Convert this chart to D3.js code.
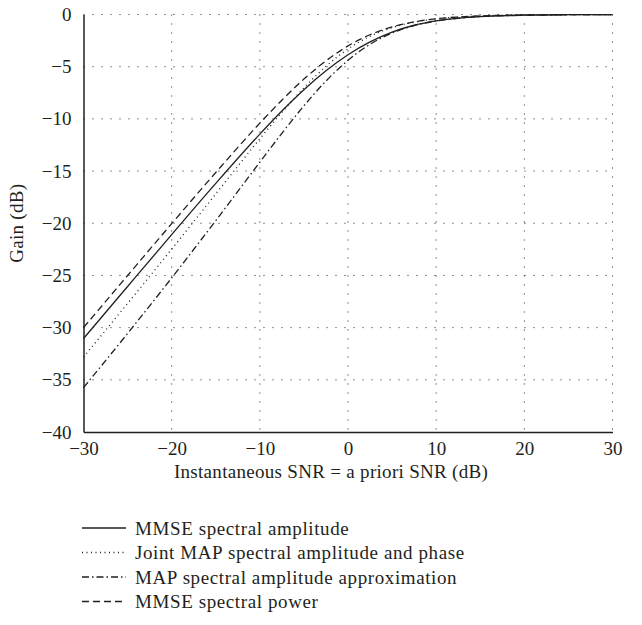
<!DOCTYPE html>
<html>
<head>
<meta charset="utf-8">
<script src="https://cdn.jsdelivr.net/npm/d3@7"></script>
<style>
  body { margin: 0; background: #fff; }
  text { font-family: "Liberation Serif", "DejaVu Serif", serif; fill: #231f20; }
</style>
</head>
<body>
<div id="chart"></div>
<script>
// SNR (dB) sample points and gain curves (dB)
const snr = [-30, -25, -20, -15, -10, -7.5, -5, -2.5, 0, 2.5, 5, 7.5, 10, 12.5, 15, 20, 25, 30];
const mmseAmplitude = [-31.05, -26.06, -21.09, -16.18, -11.46, -9.25, -7.21, -5.4, -3.86, -2.63, -1.69, -1.03, -0.61, -0.35, -0.2, -0.065, -0.02, -0.007];
const jointMap = [-32.82, -27.69, -22.48, -17.19, -11.91, -9.38, -7.03, -4.97, -3.31, -2.09, -1.26, -0.74, -0.42, -0.24, -0.14, -0.043, -0.014, -0.004];
const mapApprox = [-35.75, -30.56, -25.24, -19.75, -14.15, -11.38, -8.75, -6.38, -4.39, -2.85, -1.77, -1.06, -0.62, -0.36, -0.2, -0.065, -0.02, -0.007];
const mmsePower = [-30.0, -25.01, -20.04, -15.14, -10.41, -8.21, -6.19, -4.44, -3.01, -1.94, -1.19, -0.71, -0.41, -0.24, -0.135, -0.043, -0.014, -0.004];

const xTicks = [-30, -20, -10, 0, 10, 20, 30];
const yTicks = [0, -5, -10, -15, -20, -25, -30, -35, -40];

const seriesNames = [
  "MMSE spectral amplitude",
  "Joint MAP spectral amplitude and phase",
  "MAP spectral amplitude approximation",
  "MMSE spectral power",
];
const seriesValues = [mmseAmplitude, jointMap, mapApprox, mmsePower];
const dashes = [null, "1,3.5", "7,3,1.5,3", "7,4"];

const width = 642, height = 625;
const margin = { top: 14.5, right: 29.5, bottom: 193, left: 83.5 };
const w = width - margin.left - margin.right;
const h = height - margin.top - margin.bottom;

const svg = d3.select("#chart").append("svg")
  .attr("width", width)
  .attr("height", height);

const g = svg.append("g")
  .attr("transform", `translate(${margin.left},${margin.top})`);

const x = d3.scaleLinear().domain([-30, 30]).range([0, w]);
const y = d3.scaleLinear().domain([-40, 0]).range([h, 0]);

// dotted grid
g.append("g").selectAll("line")
  .data(yTicks.filter((d) => d !== -40))
  .join("line")
  .attr("x1", 0).attr("x2", w)
  .attr("y1", (d) => y(d)).attr("y2", (d) => y(d))
  .attr("stroke", "#231f20")
  .attr("stroke-width", 1)
  .attr("stroke-dasharray", "1,8");

g.append("g").selectAll("line")
  .data(xTicks.filter((d) => d !== -30))
  .join("line")
  .attr("x1", (d) => x(d)).attr("x2", (d) => x(d))
  .attr("y1", 0).attr("y2", h)
  .attr("stroke", "#231f20")
  .attr("stroke-width", 1)
  .attr("stroke-dasharray", "1,8");

// axes
const xAxis = g.append("g")
  .attr("transform", `translate(0,${h})`)
  .call(d3.axisBottom(x).tickValues(xTicks).tickSize(0).tickPadding(10));
const yAxis = g.append("g")
  .call(d3.axisLeft(y).tickValues(yTicks).tickSize(0).tickPadding(12));

[xAxis, yAxis].forEach((ax) => {
  ax.select(".domain").attr("stroke", "#231f20").attr("stroke-width", 1.5);
  ax.selectAll("text")
    .style("font-family", '"Liberation Serif", serif')
    .style("font-size", "19px")
    .attr("fill", "#231f20");
});

// axis titles
svg.append("text")
  .attr("x", 331)
  .attr("y", 478)
  .attr("text-anchor", "middle")
  .style("font-size", "19px")
  .style("letter-spacing", "0.3px")
  .text("Instantaneous SNR = a priori SNR (dB)");

svg.append("text")
  .attr("transform", `translate(23,${margin.top + h / 2}) rotate(-90)`)
  .attr("text-anchor", "middle")
  .style("font-size", "19px")
  .style("letter-spacing", "0.3px")
  .text("Gain (dB)");

// curves
const line = d3.line()
  .x((d) => x(d[0]))
  .y((d) => y(d[1]))
  .curve(d3.curveMonotoneX);

seriesValues.forEach((vals, i) => {
  g.append("path")
    .datum(snr.map((s, j) => [s, vals[j]]))
    .attr("fill", "none")
    .attr("stroke", "#231f20")
    .attr("stroke-width", 1.3)
    .attr("stroke-dasharray", dashes[i])
    .attr("d", line);
});

// legend
const legend = svg.append("g").attr("transform", "translate(82,528)");
seriesNames.forEach((name, i) => {
  const row = legend.append("g").attr("transform", `translate(0,${i * 24.5})`);
  row.append("line")
    .attr("x1", 0).attr("x2", 44)
    .attr("y1", 0).attr("y2", 0)
    .attr("stroke", "#231f20")
    .attr("stroke-width", 1.3)
    .attr("stroke-dasharray", dashes[i]);
  row.append("text")
    .attr("x", 53)
    .attr("y", 0)
    .attr("dy", "0.35em")
    .style("font-size", "19px")
    .style("letter-spacing", "0.6px")
    .text(name);
});
</script>
</body>
</html>
